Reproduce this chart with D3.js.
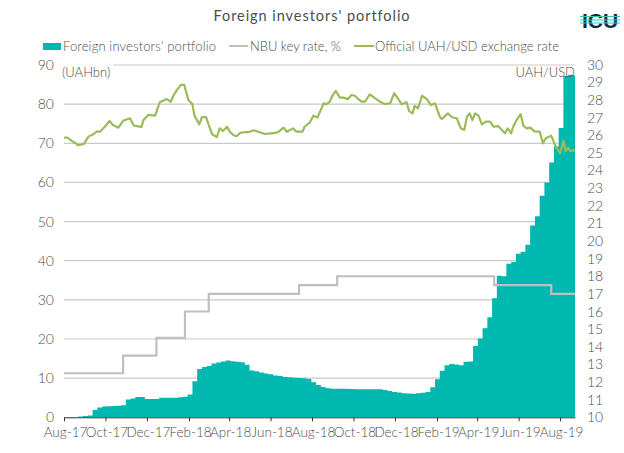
<!DOCTYPE html>
<html><head><meta charset="utf-8">
<script src="https://cdn.jsdelivr.net/npm/d3@7"></script>
<style>html,body{margin:0;padding:0;background:#fff}svg{display:block}text{font-family:Lato,sans-serif;font-weight:300;fill:#4d4d4d}</style>
</head><body><svg id="c" width="624" height="453"></svg>
<script>
const startDate = new Date(2017,7,1), endDate = new Date(2019,7,23);
const weekStepDays = 7;
const portfolioValues = [0,.08,.08,.2,.33,.46,1.87,2.5,2.76,2.81,
2.89,2.97,3.1,4.55,4.8,5.2,5.2,4.68,4.68,4.68,
5.02,5.02,5.02,5.02,5.15,5.27,5.8,9.2,12.35,12.87,
13.12,13.76,13.97,14.27,14.48,14.32,14.2,14.07,13.4,11.95,
11.74,11.43,11.2,11.0,10.7,10.56,10.3,10.23,10.1,10.05,
9.95,9.8,8.95,8.26,7.75,7.4,7.3,7.3,7.3,7.3,
7.25,7.15,7.15,7.15,7.15,7.15,7.15,6.97,6.73,6.47,
6.32,6.16,6.06,6.03,6.16,6.3,6.47,7.67,9.72,11.92,
13.3,13.59,13.5,13.3,14.16,14.28,18.22,20.1,22.75,25.57,
30.43,36.15,36.02,39.2,39.7,41.8,42.3,44.1,49.0,51.36,
56.6,60.0,65.1,69.2,73.9,87.2,87.5,87.4,87.2];
const fxDays = [0,5,11,16,21,29,36,43,48,53,60,67,72,80,87,97,103,114,117,124,134,141,151,157,161,166,172,177,
183,189,192,199,203,209,213,218,225,229,234,240,244,249,254,259,266,271,279,288,296,311,316,323,328,337,342,351,354,362,
367,373,382,386,391,395,400,406,411,418,423,428,433,438,443,450,458,465,472,480,486,492,497,504,508,513,516,521,527,534,540,546,
553,556,565,571,578,584,589,593,597,601,605,610,615,621,627,632,639,649,653,658,661,666,672,676,681,686,693,700,705,709,717,723,730,735,738,742,745,752];
const fxValues = [25.86,25.86,25.69,25.58,25.43,25.5,25.92,26.05,26.2,26.2,26.48,26.81,26.58,26.43,26.82,26.96,26.54,26.47,26.86,27.15,27.11,27.87,28.05,27.9,28.24,28.56,28.85,28.85,
28.0,27.75,27.11,26.62,27.03,27.03,26.58,26.05,25.9,26.39,26.24,26.48,26.2,26.01,25.94,26.13,26.17,26.17,26.28,26.17,26.07,26.13,26.2,26.43,26.2,26.39,26.2,26.2,26.48,26.73,
27.11,27.0,27.81,27.75,27.9,28.24,28.51,28.13,28.13,28.05,28.28,28.24,28.05,27.9,27.9,28.32,28.09,27.9,27.77,27.81,28.38,28.05,27.75,27.87,27.37,27.24,27.67,27.53,28.24,28.05,27.71,27.81,
27.05,26.92,27.24,27.02,26.96,26.39,26.3,27.05,27.24,26.86,27.24,27.11,26.62,26.77,26.77,26.48,26.52,26.11,26.39,26.11,26.48,26.86,27.2,26.54,26.39,26.43,26.2,26.2,25.54,25.83,25.97,25.41,24.97,25.69,25.11,25.29,25.11,25.16];
const rateDates = ["2017-08-01","2017-10-27","2017-12-15","2018-01-26","2018-03-02","2018-07-13","2018-09-07","2019-04-26","2019-07-19","2019-08-23"];
const rateValues = [12.5,13.5,14.5,16,17,17.5,18,17.5,17,17];
const leftTicks = [0,10,20,30,40,50,60,70,80,90];
const rightTicks = d3.range(10,31);
const title = "Foreign investors' portfolio";
const seriesNames = ["Foreign investors' portfolio","NBU key rate, %","Official UAH/USD exchange rate"];
const colors = {area:"#00b8b0",rate:"#bfbfbf",fx:"#9bbb59",grid:"#c9c9c9"};

const svg = d3.select("#c");
const x = d3.scaleTime().domain([startDate,endDate]).range([64,575]);
const yL = d3.scaleLinear().domain([0,90]).range([417.3,65]);
const yR = d3.scaleLinear().domain([10,30]).range([417.3,64.7]);
const weekDate = i => d3.timeDay.offset(startDate,i*weekStepDays);
const parse = d3.timeParse("%Y-%m-%d");

svg.append("defs").append("clipPath").attr("id","plot").append("rect").attr("x",64).attr("y",40).attr("width",511).attr("height",378);

svg.append("g").selectAll("line").data(leftTicks.slice(1)).join("line")
 .attr("x1",64).attr("x2",575).attr("y1",d=>yL(d)).attr("y2",d=>yL(d))
 .attr("stroke",colors.grid).attr("stroke-width",1.2);
svg.append("rect").attr("x",60).attr("y",60).attr("width",53).attr("height",20).attr("fill","#fff");

const plot = svg.append("g").attr("clip-path","url(#plot)");
plot.append("path").datum(portfolioValues)
 .attr("d",d3.area().x((d,i)=>x(weekDate(i))).y0(yL(0)).y1(d=>yL(d)).curve(d3.curveStepAfter))
 .attr("fill",colors.area);
plot.append("path").datum(rateValues)
 .attr("d",d3.line().x((d,i)=>x(parse(rateDates[i]))).y(d=>yR(d)).curve(d3.curveStepAfter))
 .attr("fill","none").attr("stroke",colors.rate).attr("stroke-width",2.2);
plot.append("path").datum(fxValues)
 .attr("d",d3.line().x((d,i)=>x(d3.timeDay.offset(startDate,fxDays[i]))).y(d=>yR(d)))
 .attr("fill","none").attr("stroke",colors.fx).attr("stroke-width",2.2).attr("stroke-linejoin","round");

const xAxis = d3.axisBottom(x).tickValues(d3.timeMonth.range(startDate,endDate,2)).tickFormat(d3.timeFormat("%b-%y")).tickSize(4).tickSizeOuter(0).tickPadding(6);
const gx = svg.append("g").attr("transform",`translate(0,${yL(0)})`).call(xAxis);
gx.select(".domain").attr("stroke","#333").attr("stroke-width",1);
gx.selectAll("line").attr("stroke","#333");
gx.selectAll("text").attr("font-size",13.5).style("font-family","Lato").attr("dx",1);

svg.append("g").selectAll("text").data(leftTicks).join("text")
 .attr("x",54).attr("y",d=>yL(d)+5).attr("text-anchor","end").attr("font-size",14).text(d=>d);
svg.append("g").selectAll("text").data(rightTicks).join("text")
 .attr("x",587).attr("y",d=>yR(d)+5).attr("font-size",14).text(d=>d);

svg.append("text").attr("x",62).attr("y",77).attr("font-size",13).text("(UAHbn)");
svg.append("text").attr("x",575).attr("y",77).attr("text-anchor","end").attr("font-size",13).text("UAH/USD");
svg.append("text").attr("x",312).attr("y",21).attr("text-anchor","middle").attr("font-size",14.5).attr("letter-spacing",0.95).style("font-weight",400).text(title);

const leg = svg.append("g");
leg.append("rect").attr("x",43).attr("y",43).attr("width",18).attr("height",7).attr("fill",colors.area);
leg.append("text").attr("x",63).attr("y",50.5).attr("font-size",13).attr("textLength",153).text(seriesNames[0]);
leg.append("line").attr("x1",229).attr("x2",248).attr("y1",46).attr("y2",46).attr("stroke",colors.rate).attr("stroke-width",2);
leg.append("text").attr("x",250).attr("y",50.5).attr("font-size",13).attr("textLength",91).text(seriesNames[1]);
leg.append("line").attr("x1",354).attr("x2",374).attr("y1",46).attr("y2",46).attr("stroke",colors.fx).attr("stroke-width",2);
leg.append("text").attr("x",375).attr("y",50.5).attr("font-size",13).attr("textLength",184).text(seriesNames[2]);

const logo = svg.append("g");
logo.append("text").attr("x",600).attr("y",28).attr("text-anchor","middle").attr("font-size",21).style("font-weight",700).style("fill","#0c2c4a").style("font-family","Liberation Sans").text("ICU");
[[16.5,"#3cc8a0"],[20,"#25c4dc"],[23,"#3cc8a0"]].forEach(([yy,c])=>logo.append("line").attr("x1",580).attr("x2",620).attr("y1",yy).attr("y2",yy).attr("stroke",c).attr("stroke-width",1));
</script></body></html>
